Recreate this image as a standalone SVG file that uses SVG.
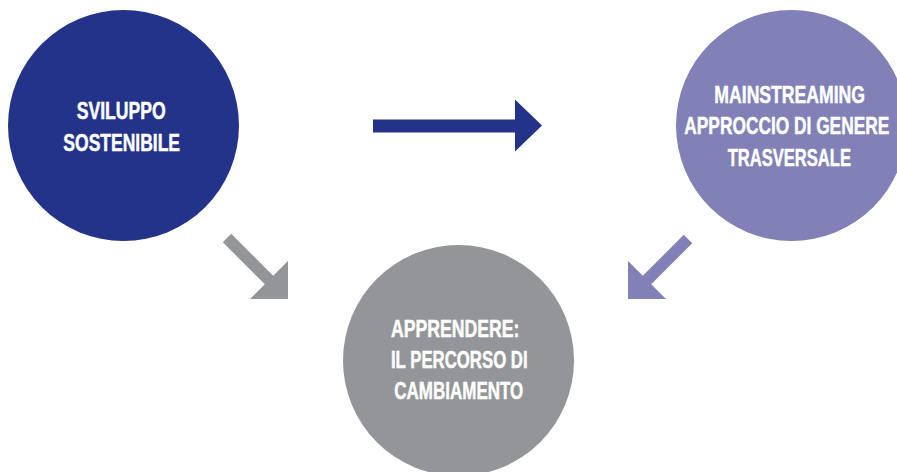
<svg xmlns="http://www.w3.org/2000/svg" width="897" height="472" viewBox="0 0 897 472">
<style>
.lbl{font-family:"Liberation Sans",Arial,sans-serif;font-weight:bold;font-size:24.5px;fill:#ffffff;stroke:#ffffff;stroke-width:0.5;text-anchor:middle}
</style>
<rect width="897" height="472" fill="#ffffff"/>
<g id="node-sviluppo">
<circle cx="123.5" cy="125.5" r="115.5" fill="#24338A"/>
<text class="lbl" x="121.2" y="119.3" textLength="89" lengthAdjust="spacingAndGlyphs">SVILUPPO</text>
<text class="lbl" x="121.7" y="150.7" textLength="116.7" lengthAdjust="spacingAndGlyphs">SOSTENIBILE</text>
</g>
<g id="node-mainstreaming">
<circle cx="791.5" cy="125.5" r="115.5" fill="#8180B7"/>
<text class="lbl" x="789.7" y="102.7" textLength="150.7" lengthAdjust="spacingAndGlyphs">MAINSTREAMING</text>
<text class="lbl" x="786.8" y="134" textLength="205" lengthAdjust="spacingAndGlyphs">APPROCCIO DI GENERE</text>
<text class="lbl" x="789.3" y="165.7" textLength="123.3" lengthAdjust="spacingAndGlyphs">TRASVERSALE</text>
</g>
<g id="node-apprendere">
<circle cx="458.5" cy="360.5" r="115.5" fill="#939598"/>
<text class="lbl" x="455.2" y="336.7" textLength="128.3" lengthAdjust="spacingAndGlyphs">APPRENDERE:</text>
<text class="lbl" x="459.3" y="367.7" textLength="136.7" lengthAdjust="spacingAndGlyphs">IL PERCORSO DI</text>
<text class="lbl" x="458.8" y="399" textLength="129" lengthAdjust="spacingAndGlyphs">CAMBIAMENTO</text>
</g>
<g id="connectors">
<polygon points="373,119.5 515,119.5 515,99.5 542,125.5 515,151.5 515,132.5 373,132.5" fill="#24338A"/>
<polygon points="231.2,233.8 273.2,275.8 288,261 288,299 250,299 264.8,284.2 222.8,242.2" fill="#939598"/>
<polygon points="683.8,234.8 692.2,243.2 651.2,284.2 666,299 628,299 628,261 642.8,275.8" fill="#8180B7"/>
</g>
</svg>
